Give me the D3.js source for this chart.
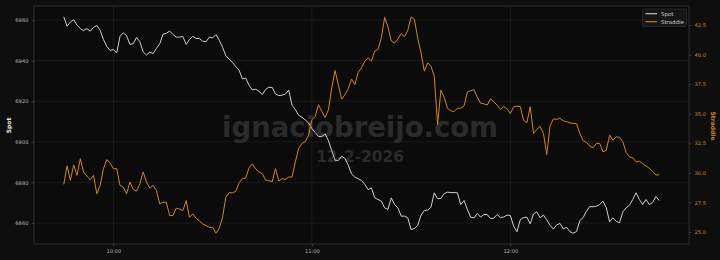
<!DOCTYPE html>
<html>
<head>
<meta charset="utf-8">
<script src="https://cdn.jsdelivr.net/npm/d3@7"></script>
<style>
  html, body { margin: 0; padding: 0; background: #0e0e0e; }
  svg { display: block; font-family: "DejaVu Sans", sans-serif; }
</style>
</head>
<body>
<div id="root"></div>
<script>
// one value per minute, 09:45 -> 12:45
var startTime = "2026-02-12T09:45:00";
var spot = [
  6961.6, 6957.0, 6959.0, 6960.2, 6957.5, 6955.8, 6954.8, 6955.8, 6954.5, 6956.5,
  6957.3, 6955.0, 6950.4, 6947.1, 6945.0, 6945.5, 6943.8, 6952.0, 6953.8, 6952.2,
  6948.0, 6948.4, 6951.5, 6949.3, 6944.3, 6942.8, 6944.2, 6943.5, 6946.0, 6948.3,
  6953.0, 6953.5, 6954.6, 6952.9, 6951.6, 6951.6, 6951.9, 6948.0, 6950.4, 6952.0,
  6950.9, 6950.9, 6949.6, 6949.3, 6951.6,
  6951.2, 6952.9, 6950.1, 6946.6, 6942.4, 6940.7, 6939.1, 6937.1, 6935.3, 6931.0,
  6931.4, 6927.9, 6925.6, 6925.9, 6925.0, 6923.3, 6925.8, 6926.9, 6926.8, 6923.6,
  6922.8, 6923.0, 6923.6, 6925.5, 6918.1, 6915.9, 6913.1, 6912.1, 6910.8, 6909.3,
  6906.6, 6904.6, 6902.6, 6902.6, 6903.9, 6900.6, 6895.7, 6891.0, 6890.8, 6892.9,
  6891.8, 6888.5, 6884.2, 6882.6, 6881.8, 6881.0,
  6879.0, 6876.5, 6877.3, 6872.4, 6871.6, 6870.8, 6867.5, 6866.7, 6872.4, 6869.1,
  6867.5, 6863.4, 6863.4, 6862.5, 6856.8, 6857.3, 6858.9, 6863.9, 6866.2, 6866.3,
  6867.8, 6874.9, 6872.0, 6872.1, 6874.5, 6875.2, 6875.0, 6875.0, 6874.9, 6869.1,
  6871.1, 6866.7, 6862.9, 6862.5, 6864.7, 6862.9, 6864.2, 6864.2, 6862.2, 6862.4,
  6864.2, 6862.7, 6863.0, 6863.9, 6863.7,
  6858.4, 6855.7, 6861.7, 6862.7, 6862.9, 6859.6, 6864.5, 6865.5, 6862.6, 6863.9,
  6861.6, 6858.9, 6857.0, 6859.1, 6859.8, 6857.1, 6857.9, 6855.8, 6855.0, 6855.8,
  6861.2, 6862.7, 6865.8, 6868.1, 6868.0, 6868.3, 6869.1, 6870.8, 6867.5, 6860.6,
  6862.6, 6860.9, 6860.1, 6865.5, 6867.5, 6868.8, 6871.6, 6874.9, 6871.6, 6869.1,
  6871.6, 6869.1, 6870.1, 6873.1, 6871.1
];
var straddle = [
  29.03, 30.6, 29.37, 30.67, 29.79, 31.2, 30.05, 29.74, 29.42, 29.79,
  28.23, 28.94, 30.36, 31.13, 30.84, 30.36, 30.36, 28.94, 28.80, 28.23,
  29.23, 28.60, 28.46, 29.08, 30.08, 29.23, 28.71, 28.94, 28.52, 27.38,
  27.52, 27.52, 26.39, 26.39, 27.01, 26.95, 26.81, 27.66, 26.24, 26.53,
  26.16, 25.93, 25.68, 25.54, 25.39,
  25.39, 24.9, 25.31, 26.24, 27.95, 28.32, 28.32, 28.43, 29.17, 29.51,
  29.57, 30.42, 30.76, 30.33, 30.08, 29.94, 29.40, 29.34, 29.25, 30.36,
  29.31, 29.51, 29.45, 29.65, 29.65, 30.93, 32.06, 32.49, 32.63, 33.20,
  34.48, 34.76, 35.76, 35.19, 34.68, 35.33, 37.18, 38.65, 37.46, 36.24,
  36.61, 37.12, 37.94, 37.46, 38.51, 38.88,
  39.45, 39.73, 39.45, 40.30, 40.44, 41.43, 43.15, 42.34, 41.15, 40.98,
  41.32, 41.78, 41.52, 42.06, 43.2, 42.97, 41.38, 40.16, 38.60, 39.31,
  39.02, 38.17, 34.1, 37.0, 36.38, 35.47, 35.25, 35.19, 35.47, 35.47,
  35.67, 36.83, 36.95, 37.03, 36.41, 35.90, 35.84, 35.73, 36.27, 36.01,
  35.73, 35.36, 35.59, 35.42, 35.02,
  35.59, 35.64, 35.61, 34.45, 34.25, 35.60, 33.34, 33.68, 33.94, 33.34,
  31.55, 33.99, 34.56, 34.53, 34.62, 34.39, 34.34, 34.22, 34.19, 34.17,
  33.34, 32.72, 32.58, 32.26, 32.12, 32.49, 32.49, 31.78, 31.92, 33.20,
  32.77, 33.06, 33.00, 32.63, 31.72, 31.36, 31.27, 30.93, 30.99, 30.79,
  30.59, 30.39, 30.13, 29.82, 29.85
];
var spotTicks = [6860, 6880, 6900, 6920, 6940, 6960];
var straddleTicks = [25, 27.5, 30, 32.5, 35, 37.5, 40, 42.5];
var timeTicks = ["10:00", "11:00", "12:00"];
var legendLabels = ["Spot", "Straddle"];
var watermark = "ignaciobreijo.com";
var watermarkDate = "12-2-2026";

var config = {
  "width": 720, "height": 260,
  "left": 34, "right": 689, "top": 6, "bottom": 244,
  "spotColor": "#cfcfcf",
  "straddleColor": "#d08719",
  "pad": 0.05
};

var t0 = new Date(startTime);
var times = spot.map(function(d, i) { return new Date(t0.getTime() + i * 60000); });
var parseHM = function(s) {
  var p = s.split(":");
  var d = new Date(t0); d.setHours(+p[0], +p[1], 0, 0); return d;
};

// matplotlib style 5% margins
function padded(ext) {
  var m = (ext[1] - ext[0]) * config.pad;
  return [ext[0] - m, ext[1] + m];
}
var tExt = d3.extent(times);
var x = d3.scaleTime().domain(padded([+tExt[0], +tExt[1]]).map(function(v) { return new Date(v); }))
  .range([config.left, config.right]);
var yL = d3.scaleLinear().domain(padded(d3.extent(spot))).range([config.bottom, config.top]);
var yR = d3.scaleLinear().domain(padded(d3.extent(straddle))).range([config.bottom, config.top]);

var svg = d3.select("#root").append("svg")
  .attr("width", config.width).attr("height", config.height);
svg.append("rect").attr("width", config.width).attr("height", config.height).attr("fill", "#0e0e0e");
svg.append("rect")
  .attr("x", config.left).attr("y", config.top)
  .attr("width", config.right - config.left).attr("height", config.bottom - config.top)
  .attr("fill", "#0b0b0b");

// grid
var grid = svg.append("g").attr("class", "grid");
grid.selectAll(".hg").data(spotTicks).enter().append("line")
  .attr("x1", config.left).attr("x2", config.right)
  .attr("y1", function(d) { return yL(d); }).attr("y2", function(d) { return yL(d); })
  .attr("stroke", "#1e1e1e").attr("stroke-width", 0.8);
grid.selectAll(".vg").data(timeTicks).enter().append("line")
  .attr("x1", function(d) { return x(parseHM(d)); }).attr("x2", function(d) { return x(parseHM(d)); })
  .attr("y1", config.top).attr("y2", config.bottom)
  .attr("stroke", "#1e1e1e").attr("stroke-width", 0.8);

// watermark
svg.append("text")
  .attr("x", 360).attr("y", 136.5).attr("text-anchor", "middle")
  .attr("font-size", 27.5).attr("font-weight", "bold").attr("fill", "#2b2b2b")
  .text(watermark);
svg.append("text")
  .attr("x", 360).attr("y", 161.5).attr("text-anchor", "middle")
  .attr("font-size", 15.4).attr("font-weight", "bold").attr("fill", "#2b2b2b")
  .text(watermarkDate);

// lines
var lineSpot = d3.line().x(function(d, i) { return x(times[i]); }).y(function(d) { return yL(d); });
var lineStr = d3.line().x(function(d, i) { return x(times[i]); }).y(function(d) { return yR(d); });
svg.append("path").datum(spot).attr("d", lineSpot)
  .attr("fill", "none").attr("stroke", config.spotColor).attr("stroke-width", 1)
  .attr("stroke-linejoin", "round");
svg.append("path").datum(straddle).attr("d", lineStr)
  .attr("fill", "none").attr("stroke", config.straddleColor).attr("stroke-width", 1)
  .attr("stroke-linejoin", "round");

// frame
svg.append("rect")
  .attr("x", config.left).attr("y", config.top)
  .attr("width", config.right - config.left).attr("height", config.bottom - config.top)
  .attr("fill", "none").attr("stroke", "#2e2e2e").attr("stroke-width", 1);

// axes
function styleAxis(g, color) {
  g.select(".domain").remove();
  g.selectAll(".tick line").attr("stroke", "#3a3a3a");
  g.selectAll(".tick text").attr("fill", color).attr("font-size", 5.2)
    .attr("font-family", "DejaVu Sans");
}
svg.append("g").attr("transform", "translate(" + config.left + ",0)")
  .call(d3.axisLeft(yL).tickValues(spotTicks).tickSize(2.5).tickPadding(3).tickFormat(d3.format("d")))
  .call(styleAxis, "#b4b4b4");
svg.append("g").attr("transform", "translate(" + config.right + ",0)")
  .call(d3.axisRight(yR).tickValues(straddleTicks).tickSize(2.5).tickPadding(3).tickFormat(d3.format(".1f")))
  .call(styleAxis, config.straddleColor);
svg.append("g").attr("transform", "translate(0," + config.bottom + ")")
  .call(d3.axisBottom(x).tickValues(timeTicks.map(parseHM)).tickSize(2.5).tickPadding(3).tickFormat(d3.timeFormat("%H:%M")))
  .call(styleAxis, "#b4b4b4");

// axis titles
svg.append("text")
  .attr("transform", "translate(10.5,125.5) rotate(-90)").attr("text-anchor", "middle")
  .attr("font-size", 6).attr("font-weight", "bold").attr("fill", "#e8e8e8")
  .text("Spot");
svg.append("text")
  .attr("transform", "translate(711,126) rotate(90)").attr("text-anchor", "middle")
  .attr("font-size", 6).attr("font-weight", "bold").attr("fill", config.straddleColor)
  .text("Straddle");

// legend
var legend = svg.append("g").attr("transform", "translate(642.5,9)");
legend.append("rect").attr("width", 44).attr("height", 17.5).attr("rx", 1.5)
  .attr("fill", "#161616").attr("stroke", "#2c2c2c").attr("stroke-width", 0.8);
var item = legend.selectAll(".item").data(legendLabels).enter().append("g")
  .attr("transform", function(d, i) { return "translate(0," + (4.7 + i * 8) + ")"; });
item.append("line").attr("x1", 3).attr("x2", 14.5).attr("y1", 0).attr("y2", 0)
  .attr("stroke", function(d, i) { return i == 0 ? config.spotColor : config.straddleColor; })
  .attr("stroke-width", 1.1);
item.append("text").attr("x", 18.5).attr("y", 1.9)
  .attr("font-size", 5.4).attr("fill", "#d0d0d0")
  .text(function(d) { return d; });
</script>
</body>
</html>
